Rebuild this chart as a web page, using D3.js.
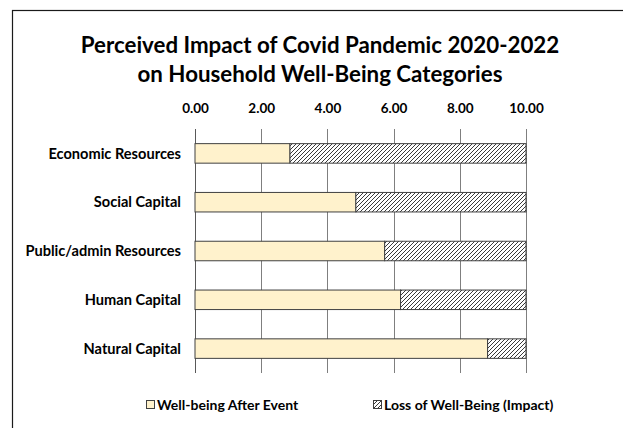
<!DOCTYPE html>
<html>
<head>
<meta charset="utf-8">
<script src="https://cdn.jsdelivr.net/npm/d3@7"></script>
<style>
  body { margin: 0; background: #fff; }
  text { font-family: Lato, "Open Sans", sans-serif; font-weight: bold; fill: #000; }
</style>
</head>
<body>
<script>
// Categories and values
const categories = ["Economic Resources", "Social Capital", "Public/admin Resources", "Human Capital", "Natural Capital"];
const afterEvent = [2.87, 4.86, 5.73, 6.21, 8.84];
const lossImpact = [7.13, 5.14, 4.27, 3.79, 1.16];
const ticks = [0, 2, 4, 6, 8, 10];
const seriesNames = ["Well-being After Event", "Loss of Well-Being (Impact)"];

const W = 623, H = 428;
const plot = {left: 195, right: 526, top: 129, bottom: 373};

const svg = d3.select("body").append("svg")
  .attr("width", W)
  .attr("height", H);

// hatch for the loss series
const defs = svg.append("defs");
defs.append("pattern")
  .attr("id", "hatch")
  .attr("patternUnits", "userSpaceOnUse")
  .attr("width", 4)
  .attr("height", 4)
  .call(p => p.append("rect").attr("width", 4).attr("height", 4).attr("fill", "#fff"))
  .append("path")
  .attr("d", "M-1,1 l2,-2 M0,4 l4,-4 M3,5 l2,-2")
  .attr("stroke", "#3a3a3a")
  .attr("stroke-width", 1);

// chart frame (cut off at right and bottom like the original)
svg.append("rect")
  .attr("x", 12.5).attr("y", 10.5)
  .attr("width", 700).attr("height", 500)
  .attr("fill", "none")
  .attr("stroke", "#1a1a1a")
  .attr("stroke-width", 1.2);

// scales
const x = d3.scaleLinear().domain([0, 10]).range([plot.left, plot.right]);
const y = d3.scaleBand().domain(categories).range([plot.top, plot.bottom]).paddingInner(0.6).paddingOuter(0.3);

// gridlines
svg.append("g")
  .selectAll("line")
  .data(ticks)
  .join("line")
  .attr("x1", d => Math.round(x(d)) + 0.5)
  .attr("x2", d => Math.round(x(d)) + 0.5)
  .attr("y1", plot.top)
  .attr("y2", plot.bottom)
  .attr("stroke", d => d === 0 ? "#595959" : "#7f7f7f")
  .attr("stroke-width", 1);

// top axis labels
const xAxis = svg.append("g")
  .attr("transform", "translate(0," + (plot.top - 13) + ")")
  .call(d3.axisTop(x).tickValues(ticks).tickFormat(d3.format(".2f")).tickSize(0));
xAxis.select(".domain").remove();
xAxis.selectAll("text")
  .style("font-family", "Lato, sans-serif")
  .style("font-weight", "bold")
  .style("font-size", "13.5px")
  .attr("fill", "#000");

// stacked bars
const rows = categories.map((c, i) => ({cat: c, a: afterEvent[i], b: lossImpact[i]}));

svg.append("g")
  .selectAll("rect")
  .data(rows)
  .join("rect")
  .attr("x", x(0))
  .attr("y", d => y(d.cat))
  .attr("width", d => x(d.a) - x(0))
  .attr("height", y.bandwidth())
  .attr("fill", "#fff2cc")
  .attr("stroke", "#404040")
  .attr("stroke-width", 1);

svg.append("g")
  .selectAll("rect")
  .data(rows)
  .join("rect")
  .attr("x", d => x(d.a))
  .attr("y", d => y(d.cat))
  .attr("width", d => x(d.a + d.b) - x(d.a))
  .attr("height", y.bandwidth())
  .attr("fill", "url(#hatch)")
  .attr("stroke", "#404040")
  .attr("stroke-width", 1);

// category labels
svg.append("g")
  .selectAll("text")
  .data(categories)
  .join("text")
  .attr("x", 181)
  .attr("y", d => y(d) + y.bandwidth() / 2)
  .attr("dy", "0.35em")
  .attr("text-anchor", "end")
  .style("font-size", "14.6px")
  .text(d => d);

// title
svg.append("text")
  .attr("x", 320).attr("y", 53)
  .attr("text-anchor", "middle")
  .style("font-size", "22.3px")
  .text("Perceived Impact of Covid Pandemic 2020-2022");
svg.append("text")
  .attr("x", 320).attr("y", 82)
  .attr("text-anchor", "middle")
  .style("font-size", "22.3px")
  .text("on Household Well-Being Categories");

// legend
const legendX = [146, 373];
const legend = svg.append("g")
  .selectAll("g")
  .data(seriesNames)
  .join("g")
  .attr("transform", (d, i) => "translate(" + legendX[i] + ",405)");
legend.append("rect")
  .attr("x", 0.5).attr("y", -4.5)
  .attr("width", 8).attr("height", 8)
  .attr("fill", (d, i) => i === 0 ? "#fff2cc" : "url(#hatch)")
  .attr("stroke", "#404040");
legend.append("text")
  .attr("x", 11)
  .attr("dy", "0.35em")
  .style("font-size", "14px")
  .text(d => d);
</script>
</body>
</html>
